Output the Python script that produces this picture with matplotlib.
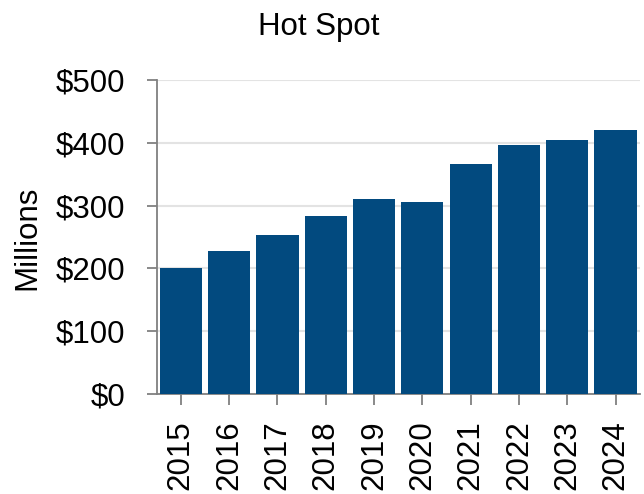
import matplotlib.pyplot as plt
from matplotlib.ticker import FuncFormatter

# Values (millions of dollars)
years = ["2015", "2016", "2017", "2018", "2019", "2020", "2021", "2022", "2023", "2024"]
spend = [201, 227, 253, 284, 310, 306, 367, 396, 405, 421]
y_ticks = [0, 100, 200, 300, 400, 500]

plt.rcParams['font.family'] = ['Liberation Sans', 'DejaVu Sans']

fig = plt.figure(figsize=(6.44, 4.94), dpi=100)
ax = fig.add_axes([0.2433, 0.2024, 0.75, 0.6356])

ax.bar(range(len(years)), spend, width=0.875, color='#024a7f', zorder=3)

ax.set_xlim(-0.5, len(years) - 0.5)
ax.set_ylim(0, 500)
ax.set_yticks(y_ticks)
ax.yaxis.set_major_formatter(FuncFormatter(lambda v, p: f"${v:.0f}"))
ax.set_xticks(range(len(years)))
ax.set_xticklabels(years, rotation=90, va='top', ha='center')

ax.grid(axis='y', color='#e3e3e3', linewidth=1.5, zorder=0)
for side in ['top', 'right']:
    ax.spines[side].set_visible(False)
for side in ['left', 'bottom']:
    ax.spines[side].set_color('#808080')
    ax.spines[side].set_linewidth(1.3)

ax.tick_params(axis='y', length=7.5, width=1.3, color='#808080', pad=15, labelsize=22.5)
ax.tick_params(axis='x', length=8, width=1.3, color='#808080', pad=11, labelsize=22.5)

fig.suptitle("Hot Spot", x=0.495, y=0.975, fontsize=22.5, va='top')
fig.text(0.042, 0.518, "Millions", rotation=90, ha='center', va='center', fontsize=22.5)

plt.savefig("out.png", dpi=100)
